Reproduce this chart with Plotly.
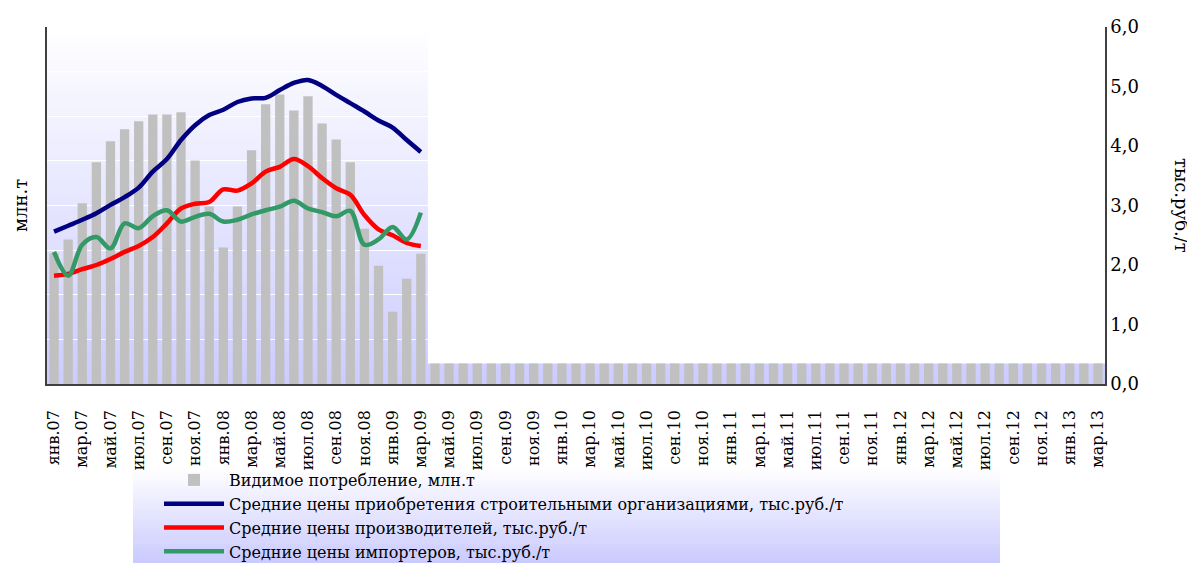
import plotly.graph_objects as go

# ---- categories (Jan 2007 .. Mar 2013) ----
month_names = ["янв", "фев", "мар", "апр", "май", "июн", "июл", "авг", "сен", "окт", "ноя", "дек"]
months = [f"{m}.{y:02d}" for y in range(7, 14) for m in month_names][:75]

# ---- series ----
consumption = [2.93, 3.24, 4.05, 4.97, 5.44, 5.71, 5.89, 6.04, 6.04, 6.09, 5.01, 3.98,
               3.06, 3.98, 5.24, 6.27, 6.49, 6.13, 6.45, 5.84, 5.48, 4.97, 3.48, 2.65,
               1.62, 2.36, 2.92] + [0.46] * 48

price_builders = [2.56, 2.66, 2.76, 2.87, 3.01, 3.14, 3.30, 3.57, 3.78, 4.10, 4.35, 4.52,
                  4.61, 4.74, 4.80, 4.81, 4.94, 5.06, 5.11, 5.01, 4.86, 4.72, 4.58, 4.43,
                  4.31, 4.10, 3.90]
price_producers = [1.82, 1.85, 1.93, 2.00, 2.10, 2.22, 2.32, 2.47, 2.70, 2.95, 3.03, 3.06,
                   3.27, 3.25, 3.37, 3.57, 3.65, 3.78, 3.66, 3.46, 3.29, 3.18, 2.84, 2.60,
                   2.50, 2.37, 2.32]
price_importers = [2.22, 1.82, 2.34, 2.47, 2.28, 2.70, 2.62, 2.82, 2.92, 2.73, 2.81, 2.86,
                   2.73, 2.76, 2.85, 2.92, 2.98, 3.08, 2.95, 2.89, 2.82, 2.91, 2.34, 2.43,
                   2.64, 2.43, 2.88]

names = ["Видимое потребление, млн.т",
         "Средние цены приобретения строительными организациями, тыс.руб./т",
         "Средние цены производителей, тыс.руб./т",
         "Средние цены импортеров, тыс.руб./т"]

tick_idx = list(range(0, 75, 2))
tick_text = [months[i] for i in tick_idx]

x_all = list(range(len(months)))
x_prices = x_all[:len(price_builders)]

SERIF = "DejaVu Serif"
OFF = 8                      # page body margin
W, H = 1195 - OFF, 563 - OFF
# plot area in figure pixels (screenshot coords minus offset)
PL, PR, PT, PB = 47 - OFF, 1105 - OFF, 27 - OFF, 384 - OFF

fig = go.Figure()
fig.add_trace(go.Bar(x=x_all, y=consumption, name=names[0], marker=dict(color="#c0c0c0", line_width=0),
                     yaxis="y"))
fig.add_trace(go.Scatter(x=x_prices, y=price_builders, name=names[1], mode="lines",
                         line=dict(color="#000080", width=4.5, shape="spline", smoothing=1), yaxis="y2"))
fig.add_trace(go.Scatter(x=x_prices, y=price_producers, name=names[2], mode="lines",
                         line=dict(color="#ff0000", width=4.5, shape="spline", smoothing=1), yaxis="y2"))
fig.add_trace(go.Scatter(x=x_prices, y=price_importers, name=names[3], mode="lines",
                         line=dict(color="#339966", width=4.5, shape="spline", smoothing=1), yaxis="y2"))


def px_x(p):
    """screenshot x pixel -> paper coordinate"""
    return (p - OFF - PL) / (PR - PL)


def px_y(p):
    """screenshot y pixel -> paper coordinate"""
    return (PB - (p - OFF)) / (PB - PT)


# ---- gradient backgrounds (decoration) ----
shapes = []
N = 60
top_c = (255, 255, 255)
bot_c = (204, 204, 255)
for k in range(N):
    t = (k + 0.5) / N
    c = tuple(round(top_c[j] + (bot_c[j] - top_c[j]) * t) for j in range(3))
    shapes.append(dict(type="rect", xref="paper", yref="paper", x0=0, x1=1,
                       y0=1 - (k + 1) / N, y1=1 - k / N + 0.002, layer="below",
                       fillcolor=f"rgb{c}", line=dict(width=0)))
# legend box gradient
L_x0, L_x1 = px_x(133), px_x(1000)
L_y0, L_y1 = px_y(566), px_y(468)
M = 30
leg_bot = (200, 200, 255)
for k in range(M):
    t = (k + 0.5) / M
    c = tuple(round(top_c[j] + (leg_bot[j] - top_c[j]) * t) for j in range(3))
    ya = L_y1 - (L_y1 - L_y0) * k / M
    yb = L_y1 - (L_y1 - L_y0) * (k + 1) / M
    shapes.append(dict(type="rect", xref="paper", yref="paper", x0=L_x0, x1=L_x1,
                       y0=yb - 0.002, y1=ya, layer="below",
                       fillcolor=f"rgb{c}", line=dict(width=0)))
# white area to the right of the last price month
shapes.append(dict(type="rect", xref="x", yref="y", x0=len(price_builders) - 0.5, x1=len(months) - 0.5,
                   y0=consumption[-1], y1=8, layer="between", fillcolor="white", line=dict(width=0)))

fig.update_layout(
    width=W, height=H,
    margin=dict(l=PL, r=W - PR, t=PT, b=H - PB, autoexpand=False),
    paper_bgcolor="white", plot_bgcolor="rgba(0,0,0,0)",
    separators=", ",
    bargap=0.34,
    showlegend=True,
    shapes=shapes,
    font=dict(family=SERIF, color="#000000"),
    xaxis=dict(range=[-0.5, len(months) - 0.5], tickmode="array", tickvals=tick_idx, ticktext=tick_text,
               tickangle=-90, tickfont=dict(family=SERIF, size=16), showgrid=False, zeroline=False,
               showline=True, linecolor="#404040", linewidth=1.5, ticks="outside", ticklen=18,
               tickcolor="rgba(0,0,0,0)", automargin=False),
    yaxis=dict(range=[0, 8], dtick=1, showticklabels=False, showgrid=True, gridcolor="white", gridwidth=1,
               zeroline=False, showline=True, linecolor="#404040", linewidth=1.5, ticks="",
               automargin=False),
    yaxis2=dict(range=[0, 6], dtick=1, tickformat=".1f", overlaying="y", side="right", showgrid=False,
                zeroline=False, showline=True, linecolor="#404040", linewidth=1.5,
                tickfont=dict(family=SERIF, size=18), ticks="", automargin=False),
    legend=dict(xref="container", yref="container", x=(159 - OFF) / W, y=1 - (463 - OFF) / H,
                xanchor="left", yanchor="top",
                bgcolor="rgba(0,0,0,0)", font=dict(family=SERIF, size=16), itemwidth=60,
                tracegroupgap=0, traceorder="normal"),
    annotations=[
        dict(text="млн.т", xref="paper", yref="paper", x=px_x(20), y=px_y(206),
             xanchor="center", yanchor="middle",
             showarrow=False, textangle=-90, font=dict(family=SERIF, size=18)),
        dict(text="тыс.руб./т", xref="paper", yref="paper", x=px_x(1182), y=px_y(205),
             xanchor="center", yanchor="middle",
             showarrow=False, textangle=90, font=dict(family=SERIF, size=18)),
    ],
)

fig.write_html("out.html")
